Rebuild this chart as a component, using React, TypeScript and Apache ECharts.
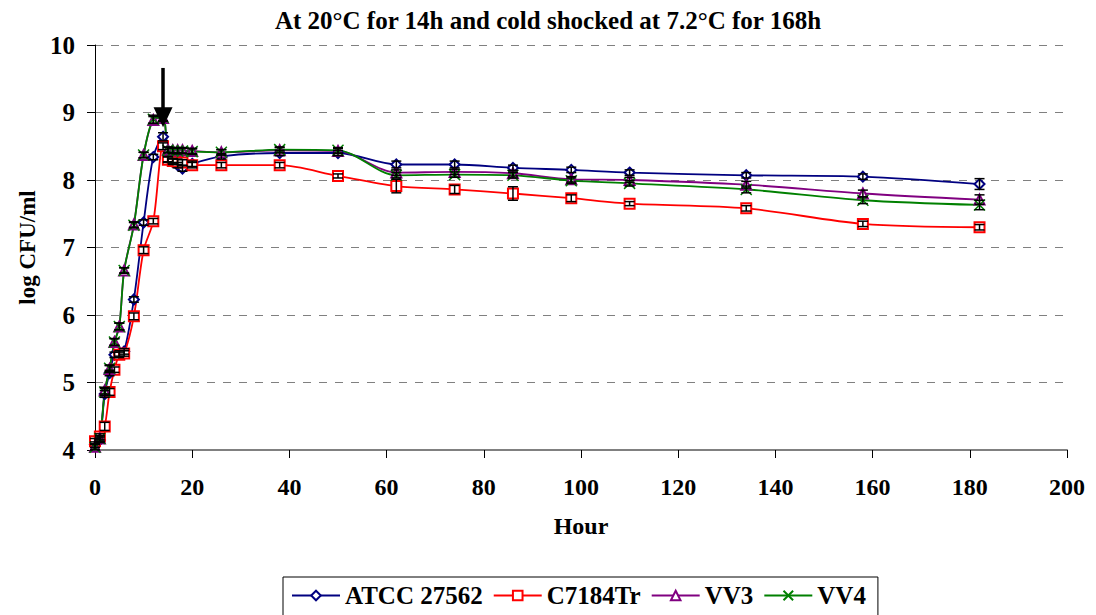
import React, { useEffect, useRef } from "react";
import * as echarts from "echarts";

const hours = [0, 1, 2, 3, 4, 5, 6, 8, 10, 12, 14, 15, 16, 17, 18, 20, 26, 38, 50, 62, 74, 86, 98, 110, 134, 158, 182];

const atcc = [4.08, 4.15, 4.83, 5.14, 5.41, 5.43, 5.46, 6.23, 7.37, 8.34, 8.64, 8.31, 8.27, 8.22, 8.17, 8.24, 8.35, 8.40, 8.40, 8.23, 8.23, 8.18, 8.15, 8.11, 8.07, 8.05, 7.94];
const atccErr = [0.04, 0.04, 0.05, 0.04, 0.04, 0.04, 0.04, 0.04, 0.04, 0.04, 0.06, 0.04, 0.04, 0.04, 0.04, 0.04, 0.04, 0.04, 0.04, 0.05, 0.05, 0.04, 0.04, 0.04, 0.04, 0.04, 0.08];

const c7184 = [4.13, 4.2, 4.35, 4.86, 5.19, 5.41, 5.43, 5.98, 6.96, 7.39, 8.5, 8.3, 8.28, 8.27, 8.26, 8.22, 8.22, 8.22, 8.06, 7.91, 7.86, 7.8, 7.73, 7.65, 7.58, 7.35, 7.3];
const c7184Err = [0.04, 0.04, 0.06, 0.05, 0.04, 0.04, 0.04, 0.05, 0.05, 0.04, 0.05, 0.04, 0.04, 0.04, 0.04, 0.04, 0.04, 0.04, 0.03, 0.1, 0.06, 0.1, 0.05, 0.03, 0.04, 0.04, 0.04];

const vv3 = [4.05, 4.17, 4.88, 5.2, 5.6, 5.83, 6.66, 7.34, 8.37, 8.89, 8.92, 8.45, 8.44, 8.44, 8.44, 8.43, 8.41, 8.44, 8.43, 8.11, 8.12, 8.1, 8.01, 8.0, 7.93, 7.8, 7.71];
const vv3Err = [0.04, 0.04, 0.05, 0.05, 0.05, 0.05, 0.04, 0.04, 0.04, 0.05, 0.05, 0.04, 0.04, 0.04, 0.04, 0.04, 0.04, 0.04, 0.04, 0.04, 0.04, 0.04, 0.04, 0.04, 0.05, 0.05, 0.07];

const vv4 = [4.04, 4.17, 4.86, 5.21, 5.6, 5.83, 6.66, 7.33, 8.37, 8.9, 8.93, 8.44, 8.43, 8.43, 8.43, 8.42, 8.41, 8.45, 8.44, 8.07, 8.08, 8.07, 7.99, 7.95, 7.86, 7.7, 7.63];
const vv4Err = [0.04, 0.04, 0.05, 0.05, 0.05, 0.05, 0.04, 0.04, 0.04, 0.06, 0.05, 0.04, 0.04, 0.04, 0.04, 0.04, 0.04, 0.04, 0.04, 0.04, 0.04, 0.04, 0.04, 0.04, 0.05, 0.05, 0.07];

const seriesNames = ["ATCC 27562", "C7184Tr", "VV3", "VV4"];
const xTicks = { min: 0, max: 200, interval: 20 };
const yTicks = { min: 4, max: 10, interval: 1 };
const arrowAt = { hour: 14, from: 9.66, to: 8.93 };

const titleText = "At 20°C for 14h and cold shocked at 7.2°C for 168h";

const FONT = "Liberation Serif";

function pairs(ys: number[]) {
  return hours.map((h, i) => [h, ys[i]]);
}
function errTriples(ys: number[], es: number[]) {
  return hours.map((h, i) => [h, ys[i], es[i]]);
}

const errRender = (params: any, api: any) => {
  const x = api.value(0);
  const y = api.value(1);
  const e = api.value(2);
  const hi = api.coord([x, y + e]);
  const lo = api.coord([x, y - e]);
  const w = 5;
  const st = { stroke: "#000", lineWidth: 1.5 };
  return {
    type: "group",
    children: [
      { type: "line", shape: { x1: hi[0], y1: hi[1], x2: lo[0], y2: lo[1] }, style: st },
      { type: "line", shape: { x1: hi[0] - w, y1: hi[1], x2: hi[0] + w, y2: hi[1] }, style: st },
      { type: "line", shape: { x1: lo[0] - w, y1: lo[1], x2: lo[0] + w, y2: lo[1] }, style: st },
    ],
  };
};

export default function App() {
  const ref = useRef<HTMLDivElement>(null);
  useEffect(() => {
    if (!ref.current) return;
    const chart = echarts.init(ref.current, null, { renderer: "svg" });
    const colors = ["#000080", "#FF0000", "#800080", "#008000"];
    const symbols = ["emptyDiamond", "emptyRect", "emptyTriangle", "path://M0,0L10,10M10,0L0,10"];
    const symbolSizes = [10, 10, 10, 11];
    const vals = [atcc, c7184, vv3, vv4];
    const errs = [atccErr, c7184Err, vv3Err, vv4Err];

    const lineSeries: any[] = seriesNames.map((name, i) => ({
      name,
      type: "line",
      data: pairs(vals[i]),
      smooth: 0.3,
      symbol: symbols[i],
      symbolSize: symbolSizes[i],
      showSymbol: true,
      showAllSymbol: true,
      color: colors[i],
      lineStyle: { color: colors[i], width: 1.8 },
      itemStyle: { color: colors[i], borderColor: colors[i], borderWidth: 1.5 },
      z: 3,
    }));
    lineSeries[3].markLine = {
      silent: true,
      symbol: ["none", "triangle"],
      symbolSize: [19, 20],
      label: { show: false },
      lineStyle: { color: "#000", width: 3.5, type: "solid" },
      data: [[{ coord: [arrowAt.hour, arrowAt.from] }, { coord: [arrowAt.hour, arrowAt.to] }]],
    };

    const errSeries = seriesNames.map((name, i) => ({
      name: name + " err",
      type: "custom",
      renderItem: errRender,
      data: errTriples(vals[i], errs[i]),
      encode: { x: 0, y: 1 },
      z: 4,
      silent: true,
    }));

    chart.setOption({
      animation: false,
      backgroundColor: "#fff",
      textStyle: { fontFamily: FONT },
      title: {
        text: titleText,
        left: 543,
        textAlign: "center",
        top: 3,
        textStyle: { fontFamily: FONT, fontWeight: "bold", fontSize: 25, color: "#000" },
      },
      legend: {
        data: seriesNames.map((n) => ({ name: n })),
        left: 283,
        top: 577,
        borderColor: "#000",
        borderWidth: 1,
        padding: [6, 12, 9, 8],
        itemWidth: 48,
        itemHeight: 12,
        itemGap: 10,
        textStyle: { fontFamily: FONT, fontWeight: "bold", fontSize: 25, color: "#000" },
      },
      grid: { left: 95, right: 29, top: 45, bottom: 165, containLabel: false },
      xAxis: {
        type: "value",
        min: xTicks.min,
        max: xTicks.max,
        interval: xTicks.interval,
        name: "Hour",
        nameLocation: "middle",
        nameGap: 64,
        nameTextStyle: { fontFamily: FONT, fontWeight: "bold", fontSize: 24, color: "#000" },
        axisLine: { onZero: false, lineStyle: { color: "#808080", width: 2 } },
        axisTick: { show: true, length: 8, lineStyle: { color: "#000" } },
        axisLabel: { fontFamily: FONT, fontWeight: "bold", fontSize: 24, color: "#000", margin: 25 },
        splitLine: { show: false },
      },
      yAxis: {
        type: "value",
        min: yTicks.min,
        max: yTicks.max,
        interval: yTicks.interval,
        name: "log CFU/ml",
        nameLocation: "middle",
        nameGap: 55,
        nameRotate: 90,
        nameTextStyle: { fontFamily: FONT, fontWeight: "bold", fontSize: 23, color: "#000" },
        axisLine: { show: true, lineStyle: { color: "#000", width: 1 } },
        axisTick: { show: true, length: 8, lineStyle: { color: "#000" } },
        axisLabel: { fontFamily: FONT, fontWeight: "bold", fontSize: 25, color: "#000", margin: 20 },
        splitLine: { show: true, lineStyle: { color: "#808080", type: [8, 8], width: 1.2 } },
      },
      series: [...lineSeries, ...errSeries],
    });
    return () => chart.dispose();
  }, []);
  return (
    <div
      ref={ref}
      style={{ position: "fixed", left: 0, top: 0, width: 1096, height: 615, background: "#fff" }}
    />
  );
}
